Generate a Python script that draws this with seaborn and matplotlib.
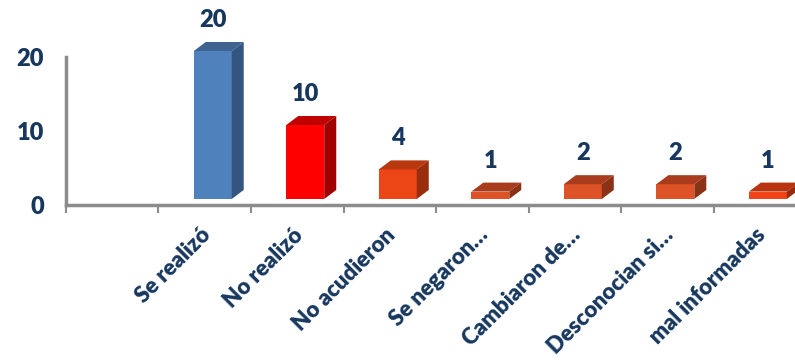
import matplotlib
matplotlib.use("Agg")
import numpy as np
import pandas as pd
import seaborn as sns
import matplotlib.pyplot as plt
from matplotlib.patches import Polygon
from matplotlib.transforms import ScaledTranslation

# --- data ---
categories = ["Se realizó", "No realizó", "No acudieron", "Se negaron…",
              "Cambiaron de…", "Desconocian si…", "mal informadas"]
values = [20, 10, 4, 1, 2, 2, 1]
front_colors = ["#4F81BD", "#FF0000", "#EC4516", "#DE5227", "#DD5227", "#DD5227", "#F04418"]
top_colors = ["#3E6391", "#C00000", "#B8380F", "#A83C1C", "#A83C1C", "#A83C1C", "#B8340F"]
side_colors = ["#34557F", "#A00000", "#982E0E", "#8A3216", "#8A3216", "#8A3216", "#982B0C"]
navy = "#17375E"
axis_grey = "#8C8C8C"

sns.set_theme(style="white")
plt.rcParams['font.family'] = ['Lato', 'DejaVu Sans']

fig = plt.figure(figsize=(7.95, 3.6), dpi=100)
ax = fig.add_axes([0.083, 0.4306, 0.917, 0.4111])

df = pd.DataFrame({'cat': categories, 'val': values})
sns.barplot(data=df, x='cat', y='val', hue='cat', palette=front_colors,
            width=0.41, saturation=1, legend=False, ax=ax)
ax.set_xlim(-1.5, 6.38)
ax.set_ylim(0, 20)

# --- fake 3D look: nudge bars and add top / side faces ---
nudge, lift, dx, dy = 8, 6, 12, 9  # pixels
shift = ScaledTranslation(nudge / 100, lift / 100, fig.dpi_scale_trans)
inv = ax.transData.inverted()
for i, p in enumerate(ax.patches):
    x0, w, h = p.get_x(), p.get_width(), p.get_height()
    p.set_transform(ax.transData + shift)
    p.set_clip_on(False)
    p.set_linewidth(0)
    (l, b), (r, t) = ax.transData.transform([(x0, 0), (x0 + w, h)])
    l += nudge
    r += nudge
    b += lift
    t += lift
    top = [(l, t), (r, t), (r + dx, t + dy), (l + dx, t + dy)]
    side = [(r, b), (r + dx, b + dy), (r + dx, t + dy), (r, t)]
    ax.add_patch(Polygon(inv.transform(top), closed=True, facecolor=top_colors[i],
                         linewidth=0, clip_on=False))
    ax.add_patch(Polygon(inv.transform(side), closed=True, facecolor=side_colors[i],
                         linewidth=0, clip_on=False))
    ax.annotate(str(values[i]), xy=(x0 + w / 2, h), xytext=(nudge, 26),
                textcoords='offset pixels', ha='center', va='bottom',
                fontsize=17, fontweight='heavy', color=navy, annotation_clip=False)

# --- axes styling ---
for s in ['top', 'right']:
    ax.spines[s].set_visible(False)
for s in ['left', 'bottom']:
    ax.spines[s].set_color(axis_grey)
    ax.spines[s].set_linewidth(2.5)

ax.set_yticks([0, 10, 20])
ax.set_yticklabels(["0", "10", "20"], fontsize=17, fontweight='heavy', color=navy)
ax.tick_params(axis='y', length=6, width=1.5, color=axis_grey, pad=10)

ax.set_xticks(range(len(categories)))
ax.set_xticklabels(categories, rotation=45, ha='right', rotation_mode='anchor',
                   fontsize=16, fontweight='heavy', color=navy)
ax.set_xticks(np.arange(-1.5, 6.0, 1), minor=True)
ax.tick_params(axis='x', which='major', length=0, pad=14)
ax.tick_params(axis='x', which='minor', length=6, width=1.5, color=axis_grey, bottom=True)
lab_shift = ScaledTranslation(-5 / 100, 0, fig.dpi_scale_trans)
for lab in ax.get_xticklabels():
    lab.set_transform(lab.get_transform() + lab_shift)
ax.set_xlabel('')
ax.set_ylabel('')

fig.savefig('out.png', dpi=100)
